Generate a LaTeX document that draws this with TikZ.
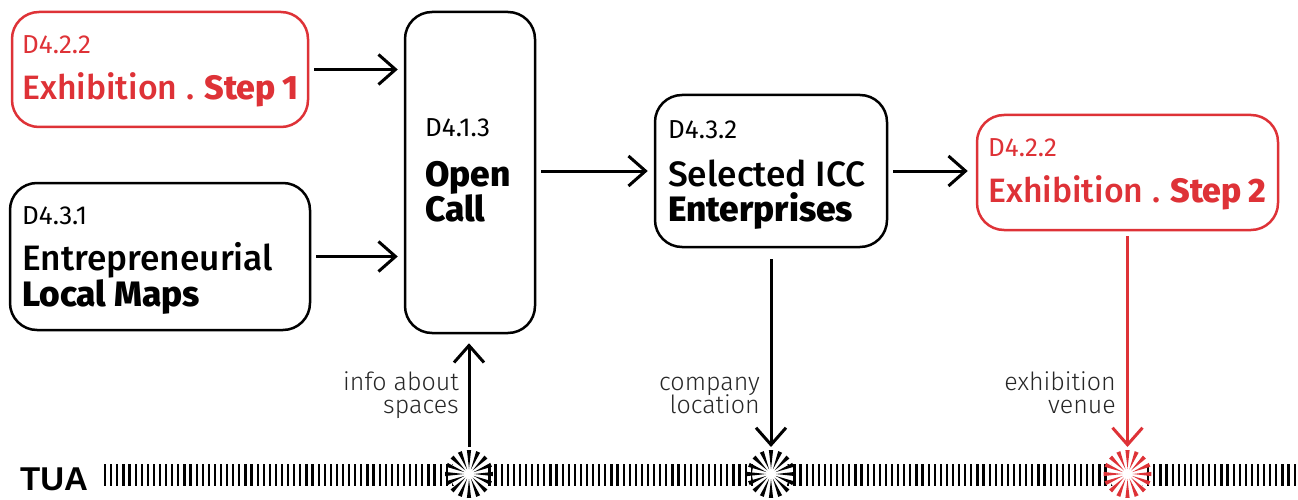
\documentclass[tikz,border=0pt]{standalone}
\usepackage{fontspec}
\setmainfont{Fira Sans Medium}[BoldFont={Fira Sans ExtraBold}]
\newfontfamily\lightfont{Fira Sans Light}
\newfontfamily\codefont{Fira Sans Regular}
\newfontfamily\tuafont{Liberation Sans}
\usetikzlibrary{arrows.meta}
\definecolor{myred}{RGB}{222,50,55}
\tikzset{
  box/.style={draw, line width=2.5pt, rounded corners=27pt, inner sep=0pt},
  redbox/.style={box, draw=myred},
  arr/.style={line width=3pt, -{Straight Barb[length=17pt,width=30pt]}},
  code/.style={anchor=base west, inner sep=0pt, font=\codefont\fontsize{26}{28}\selectfont},
  big/.style={anchor=base west, inner sep=0pt, font=\fontsize{35.3}{38}\selectfont},
  lab/.style={anchor=base east, inner sep=0pt, font=\lightfont\fontsize{25}{27}\selectfont, text=black!85},
}
\newcommand{\exhline}[1]{Exhibition\hspace{0.28em}.\hspace{0.28em}\textbf{Step\hspace{0.2em}#1}}
\begin{document}
\begin{tikzpicture}[x=1pt,y=-1pt]
\useasboundingbox (0,0) rectangle (1298,500);
% boxes
\node[redbox, minimum width=296pt, minimum height=115pt] (b1) at (160,69.5) {};
\node[box, minimum width=300pt, minimum height=147pt] (b2) at (160,256.5) {};
\node[box, minimum width=130pt, minimum height=321pt] (oc) at (470,172.5) {};
\node[box, minimum width=232pt, minimum height=152pt] (b4) at (771,171) {};
\node[redbox, minimum width=301pt, minimum height=115pt] (b5) at (1127.5,172.5) {};
% texts
\node[code, text=myred] (t1a) at (22,54) {D4.2.2};
\node[big, text=myred, font=\fontsize{33.8}{36}\selectfont] (t1b) at (22,100) {\exhline{1}};
\node[code] (t2a) at (22,224) {D4.3.1};
\node[big] (t2b) at (22,270) {Entrepreneurial};
\node[big] (t2c) at (22,306) {\textbf{Local Maps}};
\node[code] (t3a) at (425,136) {D4.1.3};
\node[big] (t3b) at (425,186) {\textbf{Open}};
\node[big] (t3c) at (425,221) {\textbf{Call}};
\node[code] (t4a) at (668,139) {D4.3.2};
\node[big] (t4b) at (668,186) {Selected ICC};
\node[big] (t4c) at (668,221) {\textbf{Enterprises}};
\node[code, text=myred] (t5a) at (988,157) {D4.2.2};
\node[big, text=myred, font=\fontsize{33.8}{36}\selectfont] (t5b) at (988,202) {\exhline{2}};
% labels
\node[lab] (l1a) at (459,390) {info about};
\node[lab] (l1b) at (459,413) {spaces};
\node[lab] (l2a) at (760,390) {company};
\node[lab] (l2b) at (760,413) {location};
\node[lab] (l3a) at (1116,390) {exhibition};
\node[lab] (l3b) at (1116,413) {venue};
% timeline
\node[anchor=base west, inner sep=0pt, font=\tuafont\bfseries\fontsize{33}{36}\selectfont] (tua) at (20,490) {TUA};
\foreach \i in {0,...,195} \fill ({104+\i*6.1},464) rectangle ++(2.2,22);
\coordinate (s1) at (469,474);
\coordinate (s2) at (771,474);
\coordinate (s3) at (1127.5,474);
\foreach \s/\c in {s1/black,s2/black,s3/myred}{
  \fill[white] (\s) circle (19);
  \foreach \a in {0,22.5,...,337.5}
    \fill[\c, shift={(\s)}] (\a-5:24) -- (\a:5) -- (\a+5:24) -- cycle;
}
% arrows
\draw[arr, shorten <=5pt, shorten >=6pt] (b1.east) -- (b1.east -| oc.west);
\draw[arr, shorten <=5pt, shorten >=6pt] (b2.east) -- (b2.east -| oc.west);
\draw[arr, shorten <=5pt, shorten >=6pt] (oc.east |- b4.west) -- (b4.west);
\draw[arr, shorten <=5pt, shorten >=8pt] (b4.east) -- (b4.east -| b5.west);
\draw[arr, shorten <=27pt, shorten >=9pt] (s1) -- (s1 |- oc.south);
\draw[arr, shorten <=11pt, shorten >=27pt] (b4.south -| s2) -- (s2);
\draw[arr, draw=myred, shorten <=5pt, shorten >=27pt] (b5.south -| s3) -- (s3);
\end{tikzpicture}
\end{document}
